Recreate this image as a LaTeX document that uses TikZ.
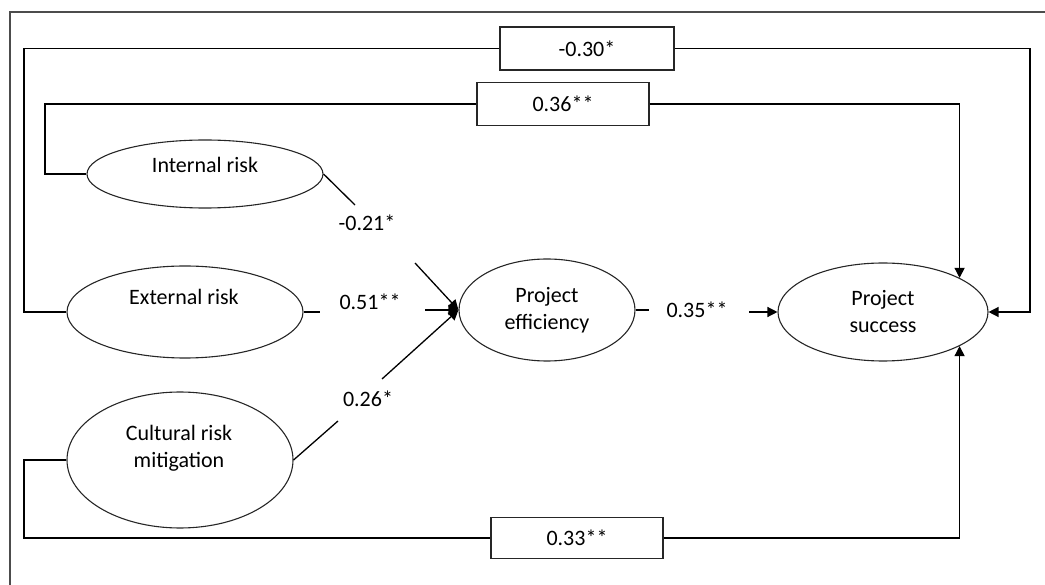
\documentclass[tikz,border=0pt]{standalone}
\usepackage{fontspec}
\setmainfont{Carlito}
\usetikzlibrary{shapes.geometric,arrows.meta}
\begin{document}
\begin{tikzpicture}[x=1pt,y=-1pt,
  line width=1.3pt,
  ell/.style={draw=black!85, line width=1.1pt, ellipse, inner sep=0pt, align=center,
    font=\fontsize{22}{27}\selectfont},
  lbl/.style={font=\fontsize{22}{27}\selectfont, inner sep=0pt},
  bx/.style={draw=black!85, fill=white, line width=1.3pt, inner sep=0pt,
    font=\fontsize{22}{27}\selectfont},
  arr/.style={-{Triangle[length=10pt,width=10pt]}},
]
\useasboundingbox (0,0) rectangle (1045,585);
% outer frame (only top and left visible)
\draw[draw=black!70, line width=1.8pt] (1045,12) -- (10,12) -- (10,585);

% ellipses
\node[ell, minimum width=236pt, minimum height=68pt] (ir) at (205,174) {};
\node[lbl, anchor=base] (irt) at (205,173) {Internal risk};
\node[ell, minimum width=236pt, minimum height=92pt] (er) at (185,312) {};
\node[lbl, anchor=base] (ert) at (184,305) {External risk};
\node[ell, minimum width=226pt, minimum height=136pt] (cr) at (180,460) {};
\node[lbl, align=center] (crt) at (179,448) {Cultural risk\\mitigation};
\node[ell, minimum width=176pt, minimum height=102pt] (ef) at (547,310) {Project\\efficiency};
\node[ell, minimum width=210pt, minimum height=98pt] (ps) at (883,312) {Project\\success};

% boxes
\node[bx, minimum width=174pt, minimum height=43pt] (b30) at (587,48.5) {-0.30*};
\node[bx, minimum width=172pt, minimum height=43pt] (b36) at (563,104) {0.36**};
\node[bx, minimum width=172pt, minimum height=41pt] (b33) at (577,538) {0.33**};

% path labels
\node[lbl] (l21) at (367,223) {-0.21*};
\node[lbl] (l51) at (370,302) {0.51**};
\node[lbl] (l26) at (368,399) {0.26*};
\node[lbl] (l35) at (697,310) {0.35**};

% helper coordinates
\coordinate (c1) at (24,48.5);
\coordinate (c2) at (1030,48.5);
\coordinate (c5) at (45,104);
\coordinate (c6) at (24,538);
\coordinate (a1) at (355,205);
\coordinate (a2) at (415,263);
\coordinate (b1) at (320,312);
\coordinate (b2) at (425,310);
\coordinate (d1) at (338,421);
\coordinate (d2) at (382,379);
\coordinate (e1) at (649,310);
\coordinate (e2) at (749,312);

% loops to project success
\draw (er.west) -| (c1) -- (b30.west);
\draw[arr] (b30.east) -- (c2) |- (ps.east);
\draw (ir.west) -| (c5) -- (b36.west);
\draw[arr] (b36.east) -| (ps.24.6);
\draw (cr.west) -| (c6) -- (b33.west);
\draw[arr] (b33.east) -| (ps.-24.6);

% paths to project efficiency
\draw (ir.east) -- (a1);
\draw[arr] (a2) -- (ef.west);
\draw (er.east) -- (b1);
\draw[arr] (b2) -- (ef.west);
\draw (cr.east) -- (d1);
\draw[arr] (d2) -- (ef.west);
\draw (ef.east) -- (e1);
\draw[arr] (e2) -- (ps.west);
\end{tikzpicture}
\end{document}
